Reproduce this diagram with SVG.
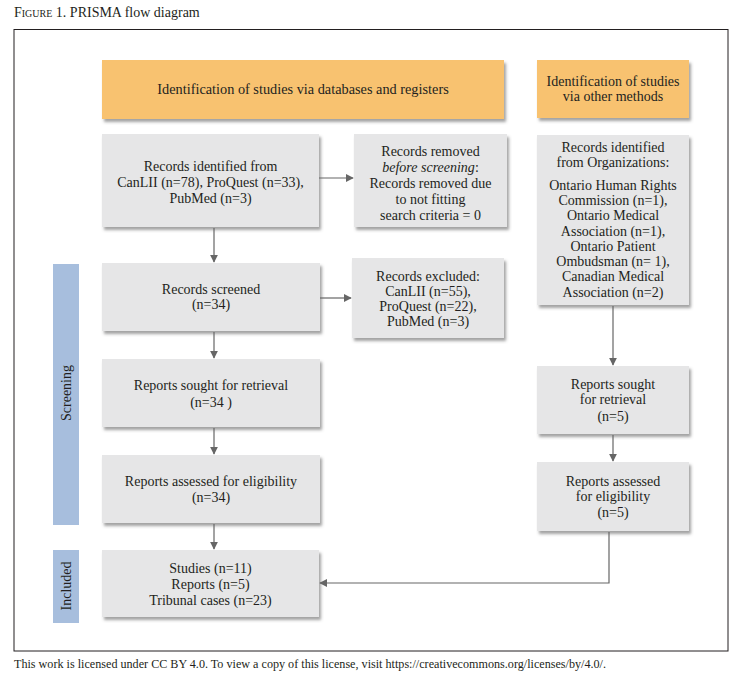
<svg xmlns="http://www.w3.org/2000/svg" width="746" height="680" viewBox="0 0 746 680">
<defs>
<filter id="sh" x="-10%" y="-10%" width="125%" height="130%">
<feDropShadow dx="2" dy="3" stdDeviation="1.8" flood-color="#555" flood-opacity="0.55"/>
</filter>
<marker id="ah" viewBox="0 0 10 10" refX="9" refY="5" markerWidth="8" markerHeight="8" markerUnits="userSpaceOnUse" orient="auto">
<path d="M0,0 L10,5 L0,10 Z" fill="#666"/>
</marker>
</defs>
<style>
text{font-family:"Liberation Serif","Times New Roman",serif;fill:#231f20}
.t{font-size:14px;text-anchor:middle}
.box{fill:#e6e6e7;filter:url(#sh)}
.hdr{fill:#f8c26f;filter:url(#sh)}
.side{fill:#a7bedd}
.c{stroke:#666;stroke-width:1.2;fill:none}
</style>
<rect width="746" height="680" fill="#fff"/>
<text x="14" y="17" style="font-size:14px"><tspan style="font-variant:small-caps">Figure 1.</tspan> PRISMA flow diagram</text>
<rect x="14" y="29.5" width="714" height="621.5" fill="none" stroke="#231f20" stroke-width="1"/>
<text x="14" y="668" style="font-size:12px" textLength="592" lengthAdjust="spacingAndGlyphs">This work is licensed under CC BY 4.0. To view a copy of this license, visit https://creativecommons.org/licenses/by/4.0/.</text>

<g id="hdr-db"><rect class="hdr" x="102" y="60" width="402" height="59"/><text class="t" x="303" y="94" style="font-size:14.3px">Identification of studies via databases and registers</text></g>
<g id="hdr-other"><rect class="hdr" x="537" y="60" width="152" height="58"/><text class="t" x="613" y="86">Identification of studies</text><text class="t" x="613" y="101">via other methods</text></g>

<g id="side-screening"><rect class="side" x="53" y="264" width="26" height="261"/><text class="t" transform="translate(71,393) rotate(-90)">Screening</text></g>
<g id="side-included"><rect class="side" x="53" y="550" width="26" height="73"/><text class="t" transform="translate(71,586) rotate(-90)">Included</text></g>

<g id="n-identified"><rect class="box" x="102" y="134" width="217" height="93"/>
<text class="t" x="210.5" y="171">Records identified from</text>
<text class="t" x="210.5" y="187">CanLII (n=78), ProQuest (n=33),</text>
<text class="t" x="210.5" y="203">PubMed (n=3)</text></g>

<g id="n-removed"><rect class="box" x="354" y="134" width="153" height="93"/>
<text class="t" x="430.5" y="156">Records removed</text>
<text class="t" x="430.5" y="172" font-style="italic">before screening<tspan font-style="normal">:</tspan></text>
<text class="t" x="430.5" y="188">Records removed due</text>
<text class="t" x="430.5" y="204">to not fitting</text>
<text class="t" x="430.5" y="220">search criteria = 0</text></g>

<g id="n-org"><rect class="box" x="537" y="135" width="152" height="170"/>
<text class="t" x="613" y="152">Records identified</text>
<text class="t" x="613" y="167">from Organizations:</text>
<text class="t" x="613" y="190">Ontario Human Rights</text>
<text class="t" x="613" y="205">Commission (n=1),</text>
<text class="t" x="613" y="220">Ontario Medical</text>
<text class="t" x="613" y="236">Association (n=1),</text>
<text class="t" x="613" y="251">Ontario Patient</text>
<text class="t" x="613" y="266">Ombudsman (n= 1),</text>
<text class="t" x="613" y="281">Canadian Medical</text>
<text class="t" x="613" y="297">Association (n=2)</text></g>

<g id="n-screened"><rect class="box" x="102" y="263" width="218" height="68"/>
<text class="t" x="211" y="294">Records screened</text>
<text class="t" x="211" y="309">(n=34)</text></g>

<g id="n-excluded"><rect class="box" x="352" y="258" width="152" height="80"/>
<text class="t" x="428" y="281">Records excluded:</text>
<text class="t" x="428" y="296">CanLII (n=55),</text>
<text class="t" x="428" y="311">ProQuest (n=22),</text>
<text class="t" x="428" y="326">PubMed (n=3)</text></g>

<g id="n-sought"><rect class="box" x="102" y="359" width="218" height="68"/>
<text class="t" x="211" y="390">Reports sought for retrieval</text>
<text class="t" x="211" y="407">(n=34 )</text></g>

<g id="n-assessed"><rect class="box" x="102" y="455" width="218" height="68"/>
<text class="t" x="211" y="486">Reports assessed for eligibility</text>
<text class="t" x="211" y="502">(n=34)</text></g>

<g id="n-included"><rect class="box" x="102" y="550" width="217" height="67"/>
<text class="t" x="210.5" y="573">Studies (n=11)</text>
<text class="t" x="210.5" y="589">Reports (n=5)</text>
<text class="t" x="210.5" y="605">Tribunal cases (n=23)</text></g>

<g id="n-sought2"><rect class="box" x="537" y="366" width="152" height="68"/>
<text class="t" x="613" y="389">Reports sought</text>
<text class="t" x="613" y="404">for retrieval</text>
<text class="t" x="613" y="421">(n=5)</text></g>

<g id="n-assessed2"><rect class="box" x="537" y="462" width="152" height="69"/>
<text class="t" x="613" y="486">Reports assessed</text>
<text class="t" x="613" y="501">for eligibility</text>
<text class="t" x="613" y="517">(n=5)</text></g>

<g id="connectors">
<line class="c" x1="319" y1="178" x2="353" y2="178" marker-end="url(#ah)"/>
<line class="c" x1="214" y1="228" x2="214" y2="262" marker-end="url(#ah)"/>
<line class="c" x1="320" y1="298" x2="351" y2="298" marker-end="url(#ah)"/>
<line class="c" x1="214" y1="332" x2="214" y2="358" marker-end="url(#ah)"/>
<line class="c" x1="214" y1="428" x2="214" y2="454" marker-end="url(#ah)"/>
<line class="c" x1="214" y1="524" x2="214" y2="549" marker-end="url(#ah)"/>
<line class="c" x1="613" y1="306" x2="613" y2="365" marker-end="url(#ah)"/>
<line class="c" x1="613" y1="435" x2="613" y2="461" marker-end="url(#ah)"/>
<polyline class="c" points="609,532 609,583 320,583" marker-end="url(#ah)"/>
</g>
</svg>
